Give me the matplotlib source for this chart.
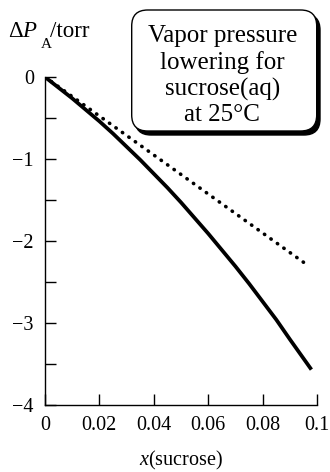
import matplotlib
matplotlib.use("Agg")
from matplotlib import pyplot as plt
from matplotlib.patches import FancyBboxPatch
from matplotlib.ticker import MultipleLocator

plt.rcParams['font.family'] = ['Liberation Serif', 'DejaVu Serif']
plt.rcParams['mathtext.fontset'] = 'custom'
plt.rcParams['mathtext.rm'] = 'Liberation Serif'
plt.rcParams['mathtext.it'] = 'Liberation Serif:italic'

# measured vapour pressure lowering (solid) and Raoult's law (dotted)
x_meas = [0, 0.005, 0.01, 0.015, 0.02, 0.025, 0.03, 0.035, 0.04, 0.045, 0.05,
          0.055, 0.06, 0.065, 0.07, 0.075, 0.08, 0.085, 0.09, 0.0975]
dp_meas = [0, -0.13, -0.26, -0.40, -0.54, -0.69, -0.85, -1.01, -1.18, -1.35,
           -1.53, -1.72, -1.91, -2.11, -2.31, -2.52, -2.74, -2.96, -3.20, -3.55]
x_ideal = [0, 0.095]
dp_ideal = [0, -2.26]

xticks = [0, 0.02, 0.04, 0.06, 0.08, 0.1]
xticklabels = ['0', '0.02', '0.04', '0.06', '0.08', '0.1']
yticks = [0, -1, -2, -3, -4]
yticklabels = ['0', '\u22121', '\u22122', '\u22123', '\u22124']

fig = plt.figure(figsize=(3.30, 4.72), dpi=100)
ax = fig.add_axes([0.136, 0.142, 0.825, 0.695])

ax.plot(x_meas, dp_meas, color='black', lw=2.7, solid_joinstyle='round')
ax.plot(x_ideal, dp_ideal, color='black', lw=2.6, linestyle=(0, (0.1, 2.1)),
        dash_capstyle='round')

ax.set_xlim(0, 0.1)
ax.set_ylim(-4, 0)
ax.spines['top'].set_visible(False)
ax.spines['right'].set_visible(False)
ax.spines['left'].set_linewidth(1.0)
ax.spines['bottom'].set_linewidth(1.0)

ax.set_xticks(xticks)
ax.set_xticklabels(xticklabels)
ax.set_yticks(yticks)
ax.set_yticklabels(yticklabels)
ax.yaxis.set_minor_locator(MultipleLocator(0.5))
ax.tick_params(axis='both', which='both', direction='in', length=8, width=1.0,
               labelsize=14.5, pad=8)

ax.set_xlabel(r'$\mathit{x}$(sucrose)', fontsize=14.5, labelpad=10)

# y-axis title: Delta P, subscript A, /torr
fig.text(0.024, 1 - 37 / 472, r'$\Delta\mathit{P}$', fontsize=16.5,
         ha='left', va='baseline')
fig.text(0.124, 1 - 48 / 472, 'A', fontsize=11, ha='left', va='baseline')
fig.text(0.150, 1 - 37 / 472, '/torr', fontsize=16.5, ha='left', va='baseline')

# caption box with drop shadow (inch coordinates)
shadow = FancyBboxPatch((1.35, 3.37), 1.85, 1.21,
                        boxstyle='round,pad=0,rounding_size=0.16',
                        transform=fig.dpi_scale_trans, facecolor='black',
                        edgecolor='black', lw=1)
box = FancyBboxPatch((1.317, 3.41), 1.85, 1.21,
                     boxstyle='round,pad=0,rounding_size=0.16',
                     transform=fig.dpi_scale_trans, facecolor='white',
                     edgecolor='black', lw=1.0)
fig.patches.append(shadow)
fig.patches.append(box)
fig.text(0.674, 0.840, 'Vapor pressure\nlowering for\nsucrose(aq)\nat 25\u00b0C',
         fontsize=18, ha='center', va='center', linespacing=1.22)

fig.savefig('out.png', dpi=100)
